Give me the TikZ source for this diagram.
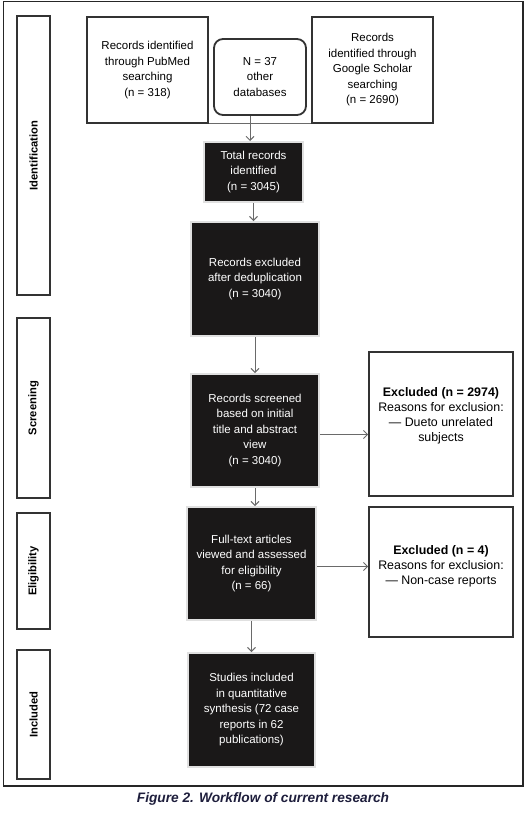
\documentclass[tikz,border=0pt]{standalone}
\usepackage{fontspec}
\setmainfont{Liberation Sans}
\usetikzlibrary{arrows.meta}
\definecolor{framegray}{HTML}{333333}
\definecolor{arrowgray}{HTML}{6A6A6A}
\definecolor{boxblack}{HTML}{1A1818}
\definecolor{captionblue}{HTML}{1E1E3C}
\begin{document}
\begin{tikzpicture}[x=1pt,y=-1pt,
  wbox/.style={draw=framegray, line width=1.8pt, fill=white, inner sep=0pt, align=center, font=\fontsize{11.5}{15.5}\selectfont},
  xbox/.style={draw=framegray, line width=1.8pt, fill=white, inner sep=0pt},
  xtext/.style={align=center, inner sep=0pt, font=\fontsize{12.4}{15}\selectfont},
  bbox/.style={fill=boxblack, draw=black!12, line width=2pt, text=white, inner sep=0pt, align=center, font=\fontsize{11.5}{15.5}\selectfont},
  side/.style={draw=framegray, line width=1.8pt, minimum width=33pt, inner sep=0pt},
  sidelabel/.style={rotate=90, inner sep=0pt, font=\bfseries\fontsize{11.2}{13}\selectfont},
  arr/.style={draw=arrowgray, line width=0.9pt, -{Straight Barb[length=4pt,width=8pt]}},
]
\useasboundingbox (0,0) rectangle (528,814);
% outer frame
\draw[line width=1.2pt, black!85] (3.5,1.5) rectangle (523,786);

% side boxes
\node[side, minimum height=279pt] (sid) at (33.5,155.5) {};
\node[sidelabel] (lid) at (sid.center) {Identification};
\node[side, minimum height=180pt] (sscr) at (33.5,408) {};
\node[sidelabel] (lscr) at (sscr.center) {Screening};
\node[side, minimum height=116pt] (selg) at (33.5,571) {};
\node[sidelabel] (lelg) at (selg.center) {Eligibility};
\node[side, minimum height=129pt] (sinc) at (33.5,714.5) {};
\node[sidelabel] (linc) at (sinc.center) {Included};

% top sources
\node[wbox, minimum width=121pt, minimum height=106pt] (pub) at (147.5,70) {Records identified\\through PubMed\\searching\\(n = 318)};
\node[wbox, minimum width=121pt, minimum height=106pt] (goo) at (372.5,70) {Records\\identified through\\Google Scholar\\searching\\(n = 2690)};
\draw[draw=arrowgray, line width=1pt] (pub.south east) -- (goo.south west);
\node[wbox, rounded corners=9pt, minimum width=92pt, minimum height=76pt] (n37) at (260,77) {N = 37\\other\\databases};

% main flow
\node[bbox, minimum width=99pt, minimum height=60pt] (tot) at (253.5,172) {Total records\\identified\\(n = 3045)};
\node[bbox, minimum width=128pt, minimum height=114pt] (ded) at (255,279) {Records excluded\\after deduplication\\(n = 3040)};
\node[bbox, minimum width=128pt, minimum height=113pt] (scr) at (255,430.5) {Records screened\\based on initial\\title and abstract\\view\\(n = 3040)};
\node[bbox, minimum width=129pt, minimum height=113pt] (ful) at (251.5,563.5) {Full-text articles\\viewed and assessed\\for eligibility\\(n = 66)};
\node[bbox, minimum width=127pt, minimum height=114pt] (stu) at (251.5,710) {Studies included\\in quantitative\\synthesis (72 case\\reports in 62\\publications)};

% exclusion boxes
\node[xbox, minimum width=144pt, minimum height=144pt] (ex1) at (441,424) {};
\node[xtext] (ex1t) at (441,416) {\textbf{Excluded (n = 2974)}\\Reasons for exclusion:\\— Dueto unrelated\\subjects};
\node[xbox, minimum width=144pt, minimum height=130pt] (ex2) at (441,572) {};
\node[xtext] (ex2t) at (441,566) {\textbf{Excluded (n = 4)}\\Reasons for exclusion:\\— Non-case reports};

% connectors
\draw[arr] ([xshift=-10pt]n37.south) -- ([xshift=-10pt]n37.south |- tot.north);
\draw[arr] (tot.south) -- (tot.south |- ded.north);
\draw[arr] (ded.south) -- (ded.south |- scr.north);
\draw[arr] (scr.south) -- (scr.south |- ful.north);
\draw[arr] (ful.south) -- (ful.south |- stu.north);
\draw[arr] ([yshift=-4pt]scr.east) -- ([yshift=-4pt]scr.east -| ex1.west);
\draw[arr] ([yshift=-3pt]ful.east) -- ([yshift=-3pt]ful.east -| ex2.west);

% caption
\node[font=\bfseries\itshape\fontsize{13.7}{16}\selectfont, text=captionblue] (cap) at (263,799) {Figure 2. Workflow of current research};
\end{tikzpicture}
\end{document}
